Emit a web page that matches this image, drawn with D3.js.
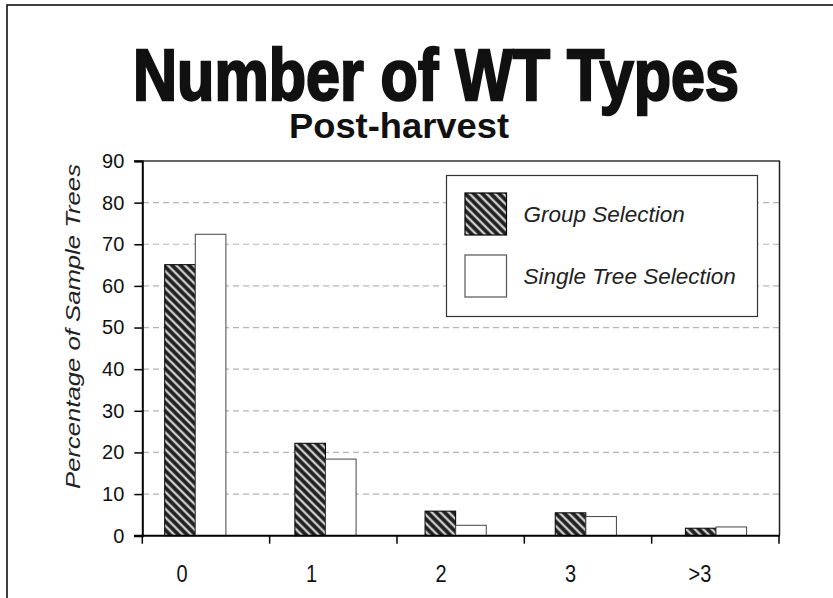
<!DOCTYPE html>
<html>
<head>
<meta charset="utf-8">
<script src="https://cdn.jsdelivr.net/npm/d3@7/dist/d3.min.js"></script>
<style>
html,body{margin:0;padding:0;background:#fff;}
svg{display:block;}
text{font-family:"Liberation Sans",Arial,sans-serif;}
</style>
</head>
<body>
<svg id="chart" width="833" height="598"></svg>
<script>
const categories = ["0", "1", "2", "3", ">3"];
const seriesNames = ["Group Selection", "Single Tree Selection"];
const groupSelection = [65.1, 22.2, 5.9, 5.5, 1.8];
const singleTreeSelection = [72.4, 18.4, 2.5, 4.6, 2.1];
const yTicks = [0, 10, 20, 30, 40, 50, 60, 70, 80, 90];
const title = "Number of WT Types";
const subtitle = "Post-harvest";
const yTitle = "Percentage of Sample Trees";

const svg = d3.select("#chart");

// defs: hatch pattern
const defs = svg.append("defs");
const pat = defs.append("pattern")
  .attr("id", "hatch")
  .attr("patternUnits", "userSpaceOnUse")
  .attr("width", 6).attr("height", 6)
  .attr("patternTransform", "rotate(-45)");
pat.append("rect").attr("width", 6).attr("height", 6).attr("fill", "#1e1e1e");
pat.append("rect").attr("x", 1.8).attr("width", 2.6).attr("height", 6).attr("fill", "#8e8e8e");
pat.append("rect").attr("x", 2.5).attr("width", 1.2).attr("height", 6).attr("fill", "#f4f4f4");

// outer frame
svg.append("rect").attr("x", 7).attr("y", 5).attr("width", 840).attr("height", 610)
  .attr("fill", "none").attr("stroke", "#111").attr("stroke-width", 1.6);

// scales
const y = d3.scaleLinear().domain([0, 90]).range([535.7, 161]);
const xAxisScale = d3.scaleBand().domain(categories).range([142.3, 779]);
const xBars = d3.scalePoint().domain(categories).range([195.3, 716]);
const xLabels = d3.scalePoint().domain(categories).range([182, 700]);
const barW = 30.6;

// title
svg.append("text").attr("x", 436).attr("y", 100).attr("text-anchor", "middle")
  .attr("font-size", 72).attr("font-weight", "bold")
  .attr("textLength", 606).attr("lengthAdjust", "spacingAndGlyphs")
  .attr("stroke", "#111").attr("stroke-width", 2.4).attr("fill", "#111")
  .text(title);
svg.append("text").attr("x", 399).attr("y", 138).attr("text-anchor", "middle")
  .attr("font-size", 35).attr("font-weight", "bold")
  .attr("textLength", 220).attr("lengthAdjust", "spacingAndGlyphs")
  .attr("fill", "#111")
  .text(subtitle);

// gridlines
svg.append("g").selectAll("line").data(yTicks.filter(d => d > 0 && d < 90)).join("line")
  .attr("x1", 143).attr("x2", 779)
  .attr("y1", d => y(d)).attr("y2", d => y(d))
  .attr("stroke", "#b4b4b4").attr("stroke-width", 1.2).attr("stroke-dasharray", "6,4");

// plot top and right border
svg.append("line").attr("x1", 134).attr("x2", 780).attr("y1", y(90)).attr("y2", y(90))
  .attr("stroke", "#333").attr("stroke-width", 1.5);
svg.append("line").attr("x1", 779.5).attr("x2", 779.5).attr("y1", y(90)).attr("y2", y(0))
  .attr("stroke", "#222").attr("stroke-width", 1.5);

// bars
const data = categories.map((c, i) => ({c, gs: groupSelection[i], st: singleTreeSelection[i]}));
const bars = svg.append("g");
bars.selectAll("rect.gs").data(data).join("rect").attr("class", "gs")
  .attr("x", d => xBars(d.c) - barW).attr("width", barW)
  .attr("y", d => y(d.gs)).attr("height", d => y(0) - y(d.gs))
  .attr("fill", "url(#hatch)").attr("stroke", "#000").attr("stroke-width", 1);
bars.selectAll("rect.st").data(data).join("rect").attr("class", "st")
  .attr("x", d => xBars(d.c)).attr("width", barW)
  .attr("y", d => y(d.st)).attr("height", d => y(0) - y(d.st))
  .attr("fill", "#fff").attr("stroke", "#444").attr("stroke-width", 1);

// y axis
const yAxis = d3.axisLeft(y).tickValues(yTicks).tickSize(8).tickPadding(10);
const gy = svg.append("g").attr("transform", "translate(142.3,0)").call(yAxis);
gy.select(".domain").attr("stroke", "#000").attr("stroke-width", 2);
gy.selectAll(".tick line").attr("stroke", "#000").attr("stroke-width", 1.5);
gy.selectAll(".tick text").attr("font-size", 20).attr("fill", "#111")
  .attr("font-family", "'Liberation Sans', Arial, sans-serif");

// x axis (ticks between categories)
const xBoundaries = categories.map(c => xAxisScale(c)).concat([xAxisScale.range()[1]]);
svg.append("line").attr("x1", 134).attr("x2", 780).attr("y1", y(0)).attr("y2", y(0))
  .attr("stroke", "#000").attr("stroke-width", 2);
svg.append("g").selectAll("line").data(xBoundaries).join("line")
  .attr("x1", d => d).attr("x2", d => d).attr("y1", y(0)).attr("y2", y(0) + 8)
  .attr("stroke", "#000").attr("stroke-width", 1.5);
svg.append("g").selectAll("text").data(categories).join("text")
  .attr("transform", d => `translate(${xLabels(d)},582) scale(1,1.2)`)
  .attr("text-anchor", "middle")
  .attr("font-size", 20).attr("fill", "#111").text(d => d);

// y title
svg.append("text").attr("transform", "translate(80,326.5) rotate(-90)")
  .attr("text-anchor", "middle").attr("font-size", 21).attr("font-style", "italic")
  .attr("textLength", 325).attr("lengthAdjust", "spacingAndGlyphs")
  .attr("fill", "#222").text(yTitle);

// legend
const lg = svg.append("g");
lg.append("rect").attr("x", 446.5).attr("y", 175.5).attr("width", 311).attr("height", 141)
  .attr("fill", "#fff").attr("stroke", "#333").attr("stroke-width", 1.2);
const fills = ["url(#hatch)", "#fff"];
const strokes = ["#000", "#555"];
const legendY = d3.scalePoint().domain(seriesNames).range([214, 276]);
lg.selectAll("rect.sw").data(seriesNames).join("rect").attr("class", "sw")
  .attr("x", 465).attr("y", d => legendY(d) - 21).attr("width", 41.5).attr("height", 42)
  .attr("fill", (d, i) => fills[i]).attr("stroke", (d, i) => strokes[i]).attr("stroke-width", 1.2);
lg.selectAll("text").data(seriesNames).join("text")
  .attr("x", 523.5).attr("y", d => legendY(d) + 8).attr("font-size", 22.5)
  .attr("font-style", "italic").attr("fill", "#222").text(d => d);
</script>
</body>
</html>
